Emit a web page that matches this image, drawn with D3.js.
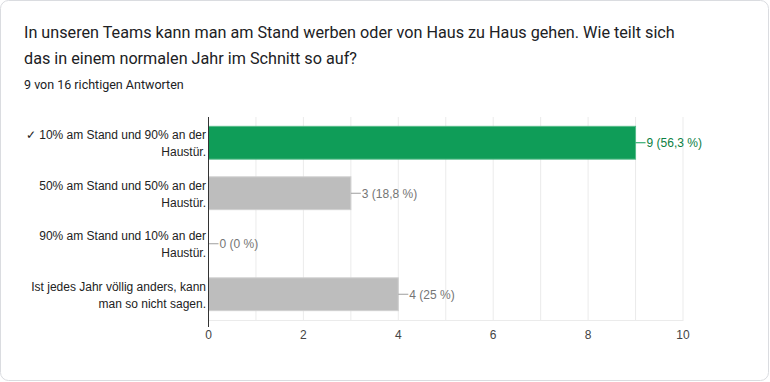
<!DOCTYPE html>
<html>
<head>
<meta charset="utf-8">
<script src="https://cdn.jsdelivr.net/npm/d3@7"></script>
<style>
  body { margin: 0; background: #fff; }
  svg text { font-family: "Liberation Sans", Arial, sans-serif; }
</style>
</head>
<body>
<svg id="chart" width="770" height="382"></svg>
<script>
const titleLines = [
  "In unseren Teams kann man am Stand werben oder von Haus zu Haus gehen. Wie teilt sich",
  "das in einem normalen Jahr im Schnitt so auf?"
];
const subtitle = "9 von 16 richtigen Antworten";

const categories = [
  ["✓ 10% am Stand und 90% an der", "Haustür."],
  ["50% am Stand und 50% an der", "Haustür."],
  ["90% am Stand und 10% an der", "Haustür."],
  ["Ist jedes Jahr völlig anders, kann", "man so nicht sagen."]
];
const counts = [9, 3, 0, 4];
const percentLabels = ["56,3 %", "18,8 %", "0 %", "25 %"];
const correct = [true, false, false, false];
const xTicks = [0, 2, 4, 6, 8, 10];

const svg = d3.select("#chart");

// card
svg.append("rect")
  .attr("x", 0.5).attr("y", 0.5)
  .attr("width", 768).attr("height", 380)
  .attr("rx", 8)
  .attr("fill", "#fff")
  .attr("stroke", "#dadce0");

svg.append("g")
  .selectAll("text")
  .data(titleLines)
  .join("text")
  .attr("x", 24)
  .attr("y", (d, i) => 38 + i * 26)
  .attr("fill", "#202124")
  .style("font-family", "Roboto, sans-serif")
  .style("font-size", "16.2px")
  .text(d => d);

svg.append("text")
  .attr("x", 24).attr("y", 89)
  .attr("fill", "#202124")
  .style("font-family", "Roboto, sans-serif")
  .style("font-size", "12.5px")
  .text(subtitle);

const x = d3.scaleLinear().domain([0, 10]).range([208.5, 683]);
const y = d3.scaleBand()
  .domain(d3.range(categories.length))
  .range([117, 319])
  .paddingInner(0.35)
  .paddingOuter(0.175);

// gridlines
svg.append("g")
  .selectAll("line")
  .data(d3.range(1, 11))
  .join("line")
  .attr("x1", d => x(d)).attr("x2", d => x(d))
  .attr("y1", 117).attr("y2", 321)
  .attr("stroke", "#ebebeb");

svg.append("line")
  .attr("x1", 208.5).attr("x2", x(10))
  .attr("y1", 320.5).attr("y2", 320.5)
  .attr("stroke", "#ebebeb");

// bars
svg.append("g")
  .selectAll("rect")
  .data(counts)
  .join("rect")
  .attr("x", x(0))
  .attr("y", (d, i) => y(i) + 0.5)
  .attr("width", d => Math.max(0, x(d) - x(0)))
  .attr("height", y.bandwidth())
  .attr("fill", (d, i) => correct[i] ? "#0f9d58" : "#bdbdbd")
  .attr("stroke", (d, i) => correct[i] ? "#57bb8a" : "#d0d0d0")
  .attr("stroke-width", d => d > 0 ? 1 : 0);

// value labels with leader lines
const vl = svg.append("g")
  .selectAll("g")
  .data(counts)
  .join("g")
  .attr("transform", (d, i) => `translate(${x(d)},${y(i) + y.bandwidth() / 2 + 0.5})`);

vl.append("line")
  .attr("x1", 0).attr("x2", 10)
  .attr("stroke", (d, i) => correct[i] ? "#0f9d58" : "#9e9e9e");

vl.append("text")
  .attr("x", 11)
  .attr("dy", "0.36em")
  .attr("fill", (d, i) => correct[i] ? "#0b8043" : "#757575")
  .style("font-size", "12px")
  .text((d, i) => `${d} (${percentLabels[i]})`);

// axis line
svg.append("line")
  .attr("x1", 208.5).attr("x2", 208.5)
  .attr("y1", 117).attr("y2", 327)
  .attr("stroke", "#333");

// category labels
const cl = svg.append("g")
  .selectAll("text")
  .data(categories)
  .join("text")
  .attr("text-anchor", "end")
  .attr("fill", "#222")
  .style("font-size", "12px");

cl.selectAll("tspan")
  .data((d, i) => d.map((t, j) => ({t, j, i})))
  .join("tspan")
  .attr("x", 206)
  .attr("y", d => y(d.i) + y.bandwidth() / 2 + (d.j === 0 ? -3 : 14))
  .text(d => d.t);

// x axis tick labels
svg.append("g")
  .selectAll("text")
  .data(xTicks)
  .join("text")
  .attr("x", d => x(d))
  .attr("y", 339)
  .attr("text-anchor", "middle")
  .attr("fill", "#444")
  .style("font-size", "12px")
  .text(d => d);
</script>
</body>
</html>
